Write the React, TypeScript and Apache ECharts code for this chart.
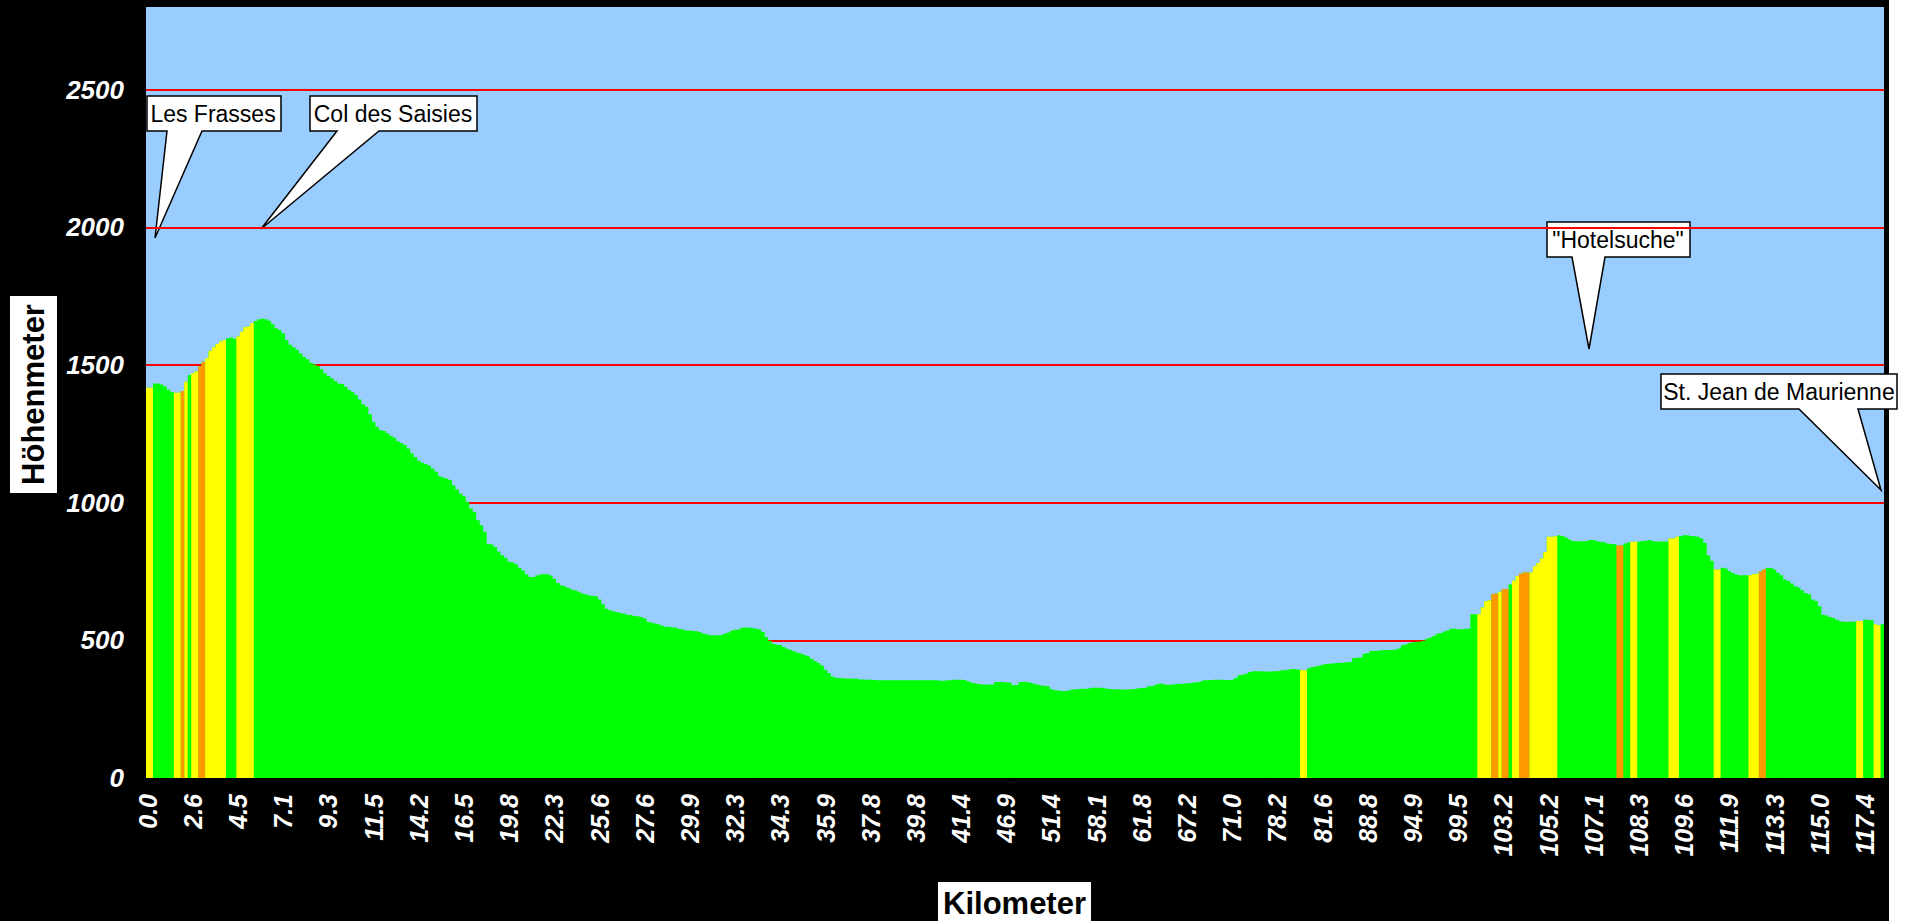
import React, { useEffect, useRef } from 'react';
import * as echarts from 'echarts';

// Kilometre tick labels (one every 13 profile points)
const kmLabels = ['0.0','2.6','4.5','7.1','9.3','11.5','14.2','16.5','19.8','22.3','25.6','27.6','29.9','32.3','34.3','35.9','37.8','39.8','41.4','46.9','51.4','58.1','61.8','67.2','71.0','78.2','81.6','88.8','94.9','99.5','103.2','105.2','107.1','108.3','109.6','111.9','113.3','115.0','117.4'];
const LABEL_STEP = 13;

// Elevation (m) per profile point, by section
const elevLesFrassesColDesSaisies = [
  1417,1417,1433,1433,1429,1422,1410,1402,1399,1399,
  1405,1439,1464,1470,1476,1495,1512,1524,1552,1564,
  1576,1585,1591,1597,1600,1595,1603,1621,1637,1640,
  1652,1660,1666,1668,1666,1661,1648,1633,1627,1615,
  1591,1573,1564,1555,1542,1530,1521,1508,1502,1496,
  1484,1470,1460,1452,1442,1433,1431,1421,1409,1401,
  1391,1375,1357,1348,1321,1294,1276,1264,1260,1252,
  1243,1236
];
const elevDescent = [
  1223,1217,1209,1197,1179,1166,1152,1145,1140,1135,
  1124,1112,1096,1091,1088,1082,1063,1048,1033,1023,
  1003,979,966,936,918,894,851,848,839,823,
  809,800,785,783,776,764,754,740,730,730,
  735,739,741,740,735,724,708,700,696,690,
  685,682,676,670,667,663,662,660,648,631,
  615,609,606,603,599,597,593,592,588,587,
  585,579
];
const elevLowerDescent = [
  567,564,561,558,553,549,549,547,546,541,
  539,536,536,534,533,529,524,521,518,518,
  518,519,524,528,535,538,539,546,547,547,
  545,542,540,530,512,498,488,484,483,476,
  469,465,460,455,452,447,442,433,425,418,
  409,393,381,369,364,363,362,361,361,360,
  360,358,358,357,357,356,355,355,355,355,
  355,355
];
const elevValley = [
  355,355,355,355,355,355,355,355,355,355,
  355,355,353,353,355,355,357,357,357,356,
  351,347,344,341,340,340,340,340,349,349,
  349,347,347,338,338,349,350,349,346,342,
  340,336,335,333,322,319,318,316,316,318,
  321,322,323,324,324,326,328,328,328,327,
  324,323,322,322,321,321,321,322,323,326,
  327,328
];
const elevValleyRise = [
  333,334,339,342,342,339,339,340,341,342,
  342,344,345,347,348,351,355,355,356,357,
  357,357,356,356,357,363,373,375,379,385,
  388,388,388,387,387,387,388,388,390,391,
  393,396,396,394,391,391,399,403,405,408,
  411,414,415,416,418,419,419,420,421,436,
  437,438,451,454,461,462,462,464,465,465,
  466,467
];
const elevClimbHotel = [
  470,482,486,490,493,495,496,498,506,510,
  516,524,527,532,536,542,542,540,540,542,
  542,595,595,595,619,642,645,667,670,676,
  686,686,704,716,733,742,746,746,746,769,
  781,797,821,876,876,878,882,879,873,866,
  861,860,860,860,861,864,864,860,858,856,
  852,850,849,844,844,852,855,858,858,858,
  861,862
];
const elevToStJean = [
  864,861,859,859,859,859,870,870,876,878,
  882,882,879,878,876,870,854,809,789,757,
  757,764,761,752,745,739,736,736,736,736,
  740,742,750,758,764,763,757,745,736,721,
  715,706,696,692,682,672,667,648,643,624,
  593,590,585,581,575,569,567,567,567,567,
  570,570,575,575,573,558,555,558
];

// Gradient class of points: [first index, last index, class] (others: moderate)
const steepRuns: [number, number, string][] = [
  [0,1,'Y'],[8,9,'Y'],[10,10,'O'],[11,11,'Y'],[13,14,'Y'],[15,16,'O'],[17,22,'Y'],[26,30,'Y'],
  [332,333,'Y'],[383,386,'Y'],[387,388,'O'],[389,389,'Y'],[390,391,'O'],[393,394,'Y'],
  [395,397,'O'],[398,405,'Y'],[423,424,'O'],[427,428,'Y'],[438,440,'Y'],[451,452,'Y'],
  [461,463,'Y'],[464,465,'O'],[492,493,'Y'],[497,498,'Y']
];

const elevation = [
  ...elevLesFrassesColDesSaisies, ...elevDescent, ...elevLowerDescent, ...elevValley,
  ...elevValleyRise, ...elevClimbHotel, ...elevToStJean
];

const COLORS: Record<string, string> = { G: '#00FF00', Y: '#FFFF00', O: '#FF9900' };
const FONT = '"Liberation Sans", Arial, sans-serif';

export default function App() {
  const ref = useRef<HTMLDivElement>(null);
  useEffect(() => {
    if (!ref.current) return;
    const chart = echarts.init(ref.current, null, { renderer: 'svg' });
    const grade = elevation.map(() => 'G');
    steepRuns.forEach(([a, b, c]) => { for (let i = a; i <= b; i++) grade[i] = c; });
    const categories = elevation.map((_, i) => String(i));
    const classSeries = (cls: string) => ({
      name: cls,
      type: 'bar',
      data: elevation.map((v, i) => (grade[i] === cls ? v : 0)),
      large: true,
      largeThreshold: 50,
      itemStyle: { color: COLORS[cls] },
      barCategoryGap: '0%',
      barGap: '-100%'
    });

    const callout = (pts: number[][], text: string, cx: number, cy: number) => ({
      type: 'group',
      children: [
        { type: 'polygon', shape: { points: pts }, style: { fill: '#fff', stroke: '#000', lineWidth: 1.5 } },
        { type: 'text', x: cx, y: cy, style: { text, font: `23px ${FONT}`, fill: '#000', align: 'center', verticalAlign: 'middle', textAlign: 'center', textVerticalAlign: 'middle' } }
      ]
    });

    chart.setOption({
      animation: false,
      backgroundColor: 'transparent',
      grid: { left: 146, top: 7, width: 1738, height: 771, show: true, backgroundColor: '#99CCFF', borderWidth: 0, containLabel: false },
      xAxis: {
        type: 'category',
        data: categories,
        axisLine: { show: true, lineStyle: { color: '#000' } },
        axisTick: { show: false },
        axisLabel: {
          interval: LABEL_STEP - 1,
          rotate: 90,
          margin: 16,
          color: '#fff',
          fontSize: 25,
          fontWeight: 'bold',
          fontStyle: 'italic',
          fontFamily: FONT,
          formatter: (v: string) => {
            const i = Number(v);
            return i % LABEL_STEP === 0 ? (kmLabels[i / LABEL_STEP] ?? '') : '';
          }
        }
      },
      yAxis: {
        type: 'value',
        min: 0,
        max: 2800,
        interval: 500,
        axisLine: { show: false },
        axisTick: { show: false },
        axisLabel: { color: '#fff', fontSize: 26, fontWeight: 'bold', fontStyle: 'italic', fontFamily: FONT, margin: 22, showMaxLabel: false, formatter: (v: number) => String(v) },
        splitLine: { show: true, showMaxLine: false, lineStyle: { color: ['#FF0000','#FF0000','#FF0000','#FF0000','#FF0000','#FF0000','#99CCFF'], width: 2 } }
      },
      series: [
        {
          name: 'Profil',
          type: 'bar',
          data: elevation,
          large: true,
          largeThreshold: 50,
          itemStyle: { color: COLORS.G },
          barCategoryGap: '0%',
          barGap: '-100%'
        },
        classSeries('Y'),
        classSeries('O')
      ],
      graphic: [
        callout([[147,96],[281,96],[281,131],[202,131],[155,238],[167,131],[147,131]], 'Les Frasses', 213, 114),
        callout([[310,96],[477,96],[477,131],[379,131],[261,229],[337,131],[310,131]], 'Col des Saisies', 393, 114),
        callout([[1547,222],[1690,222],[1690,257],[1605,257],[1589,349],[1572,257],[1547,257]], '"Hotelsuche"', 1618, 240),
        callout([[1661,374],[1897,374],[1897,409],[1858,409],[1881,490],[1799,409],[1661,409]], 'St. Jean de Maurienne', 1779, 392),
        { type: 'rect', shape: { x: 10, y: 296, width: 47, height: 197 }, style: { fill: '#fff' } },
        { type: 'text', x: 33.5, y: 394.5, rotation: Math.PI / 2, style: { text: 'Höhenmeter', font: `bold 31px ${FONT}`, fill: '#000', align: 'center', verticalAlign: 'middle', textAlign: 'center', textVerticalAlign: 'middle' } },
        { type: 'rect', shape: { x: 938, y: 882, width: 153, height: 45 }, style: { fill: '#fff' } },
        { type: 'text', x: 1014.5, y: 903, style: { text: 'Kilometer', font: `bold 31px ${FONT}`, fill: '#000', align: 'center', verticalAlign: 'middle', textAlign: 'center', textVerticalAlign: 'middle' } }
      ]
    });
    return () => chart.dispose();
  }, []);
  return (
    <div style={{ position: 'fixed', left: 0, top: 0, width: 1907, height: 921, background: 'linear-gradient(to right, #000 1889px, #fff 1889px)' }}>
      <div ref={ref} style={{ width: 1907, height: 921 }} />
    </div>
  );
}
